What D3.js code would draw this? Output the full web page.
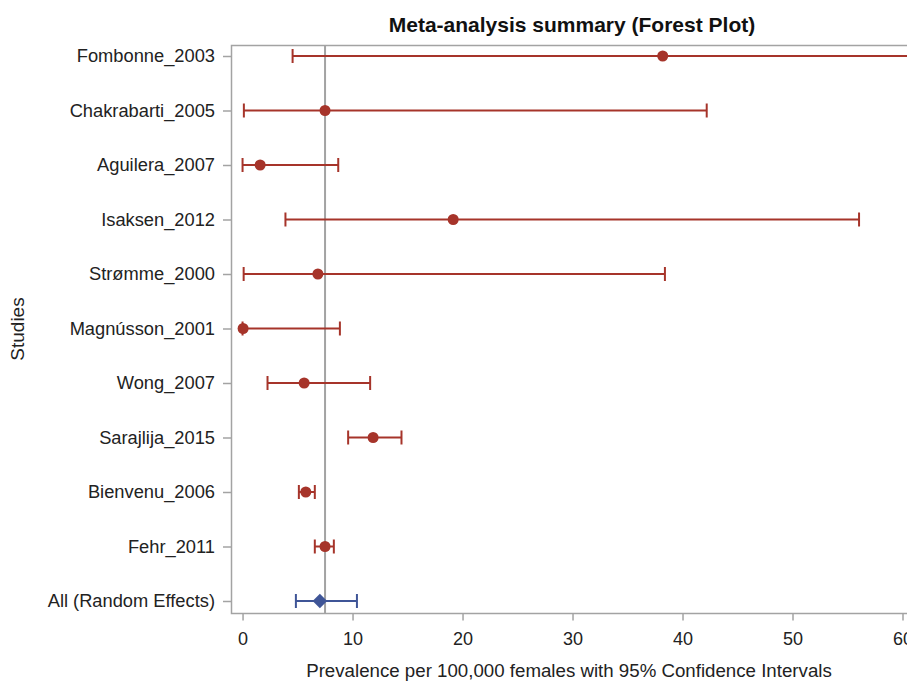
<!DOCTYPE html>
<html>
<head>
<meta charset="utf-8">
<script src="https://cdn.jsdelivr.net/npm/d3@7"></script>
<style>
  html, body { margin: 0; padding: 0; background: #fff; }
  svg { display: block; font-family: "Liberation Sans", Arial, sans-serif; }
</style>
</head>
<body>
<svg id="chart" width="907" height="682"></svg>
<script>
const studies = ["Fombonne_2003","Chakrabarti_2005","Aguilera_2007","Isaksen_2012","Strømme_2000","Magnússon_2001","Wong_2007","Sarajlija_2015","Bienvenu_2006","Fehr_2011","All (Random Effects)"];
const estimates = [38.2, 7.5, 1.6, 19.15, 6.85, 0.05, 5.6, 11.87, 5.75, 7.5, 7.03];
const lowerCI   = [4.55, 0.12, 0.0, 3.9, 0.1, 0.0, 2.27, 9.6, 5.12, 6.57, 4.85];
const upperCI   = [75.0, 42.2, 8.7, 56.05, 38.4, 8.85, 11.6, 14.45, 6.57, 8.3, 10.4];
const xTicks = [0, 10, 20, 30, 40, 50, 60];
const refValue = 7.5;

(function () {
const svg = d3.select("#chart");
const pLeft = 231, pTop = 45, pBottom = 613, pRight = 919;
const x = d3.scaleLinear().domain([-1.05, 61.5]).range([pLeft, pRight]);
const y = d3.scalePoint().domain(studies).range([56, 601]);

const red = "#A6342A", blue = "#3F5597", grey = "#A3A3A3";
const fam = "Liberation Sans, Arial, sans-serif";

// frame
svg.append("rect").attr("x", pLeft + 0.5).attr("y", pTop + 0.5)
  .attr("width", pRight - pLeft).attr("height", pBottom - pTop)
  .attr("fill", "none").attr("stroke", grey).attr("stroke-width", 1.5);

svg.append("defs").append("clipPath").attr("id", "plotclip")
  .append("rect").attr("x", pLeft).attr("y", pTop).attr("width", pRight - pLeft).attr("height", pBottom - pTop);

// reference line
svg.append("line").attr("x1", x(refValue)).attr("x2", x(refValue))
  .attr("y1", pTop).attr("y2", pBottom).attr("stroke", grey).attr("stroke-width", 2);

// x axis
const xAxis = d3.axisBottom(x).tickValues(xTicks).tickSize(7).tickPadding(12).tickFormat(d3.format("d"));
const gx = svg.append("g").attr("transform", `translate(0,${pBottom + 0.5})`).call(xAxis);
gx.select(".domain").remove();
gx.selectAll("line").attr("stroke", grey).attr("stroke-width", 1.5);
gx.selectAll("text").attr("font-size", 18).attr("fill", "#222").style("font-family", fam);

// y axis
const yAxis = d3.axisLeft(y).tickSize(8).tickPadding(8);
const gy = svg.append("g").attr("transform", `translate(${pLeft},0)`).call(yAxis);
gy.select(".domain").remove();
gy.selectAll("line").attr("stroke", grey).attr("stroke-width", 1.5);
gy.selectAll("text").attr("font-size", 18.3).attr("fill", "#222").style("font-family", fam);

const data = studies.map((s, i) => ({ s, est: estimates[i], lo: lowerCI[i], hi: upperCI[i], summary: i === studies.length - 1 }));

const g = svg.append("g").attr("clip-path", "url(#plotclip)");
const cap = 7;
const rows = g.selectAll("g.row").data(data).join("g").attr("class", "row");
rows.each(function(d) {
  const c = d.summary ? blue : red;
  const sel = d3.select(this);
  const yy = y(d.s);
  sel.append("line").attr("x1", x(d.lo)).attr("x2", x(d.hi)).attr("y1", yy).attr("y2", yy)
    .attr("stroke", c).attr("stroke-width", 2);
  [d.lo, d.hi].forEach(v => {
    sel.append("line").attr("x1", x(v)).attr("x2", x(v)).attr("y1", yy - cap).attr("y2", yy + cap)
      .attr("stroke", c).attr("stroke-width", 2);
  });
  if (d.summary) {
    sel.append("path").attr("d", d3.symbol().type(d3.symbolSquare).size(105)())
      .attr("transform", `translate(${x(d.est)},${yy}) rotate(45)`).attr("fill", c);
  } else {
    sel.append("circle").attr("cx", x(d.est)).attr("cy", yy).attr("r", 5.5).attr("fill", c);
  }
});

// title
svg.append("text").attr("x", 572).attr("y", 32).attr("text-anchor", "middle")
  .attr("font-size", 21).attr("font-weight", "bold").attr("fill", "#111")
  .text("Meta-analysis summary (Forest Plot)");

// axis labels
svg.append("text").attr("x", 569).attr("y", 677).attr("text-anchor", "middle")
  .attr("font-size", 18.7).attr("fill", "#222")
  .text("Prevalence per 100,000 females with 95% Confidence Intervals");
svg.append("text").attr("transform", "translate(24,329) rotate(-90)").attr("text-anchor", "middle")
  .attr("font-size", 19).attr("fill", "#222").text("Studies");
})();
</script>
</body>
</html>
